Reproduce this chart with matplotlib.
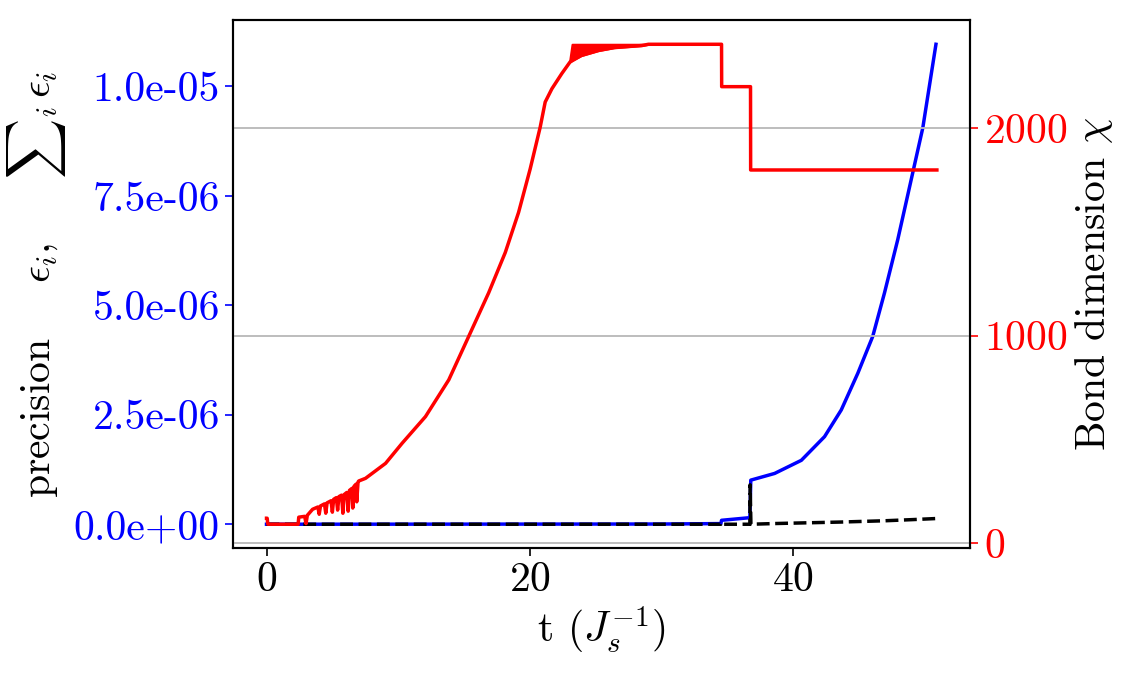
import matplotlib
matplotlib.use('Agg')
import matplotlib.pyplot as plt
from matplotlib.ticker import FormatStrFormatter

plt.rcParams.update({
    'font.family': 'serif',
    'font.serif': ['cmr10', 'DejaVu Serif'],
    'mathtext.fontset': 'cm',
    'axes.formatter.use_mathtext': True,
    'font.size': 30,
    'axes.linewidth': 1.5,
})

# bond dimension chi vs t (red, right axis)
t_chi = [0.0, 0.05, 0.1, 2.4, 2.45, 2.9, 3.0, 3.1, 3.5, 3.9, 4.0, 4.1, 4.4, 4.5, 4.6,
         4.9, 5.0, 5.1, 5.3, 5.4, 5.5, 5.7, 5.8, 5.9, 6.1, 6.2, 6.3, 6.5, 6.55, 6.65,
         6.8, 6.85, 6.95, 7.0, 7.52, 9.04, 10.3, 12.07, 13.84, 15.36, 16.87, 18.13,
         19.14, 20.02, 20.78, 21.16, 21.67, 22.42, 23.05, 23.9, 25.2, 26.4, 28.5, 29.0,
         34.55, 34.56, 36.75, 36.76, 50.9]
chi = [121, 121, 92, 92, 126, 130, 95, 135, 164, 175, 140, 180, 190, 145, 195,
       205, 150, 212, 220, 160, 225, 232, 145, 235, 245, 155, 255, 265, 170, 275,
       285, 200, 295, 300, 313, 385, 482, 610, 787, 997, 1206, 1400,
       1593, 1802, 2003, 2124, 2188, 2261, 2317, 2348, 2372, 2386, 2396, 2402,
       2402, 2198, 2198, 1797, 1797]

# oscillating band of chi between t~23 and t~29
t_band = [23.0, 23.2, 23.9, 25.2, 26.4, 28.5, 29.0]
chi_band_low = [2315, 2325, 2348, 2372, 2386, 2396, 2402]
chi_band_high = [2315, 2402, 2402, 2402, 2402, 2402, 2402]

# accumulated precision sum_i eps_i (blue)
t_sum = [0.0, 30.0, 34.5, 34.55, 36.7, 36.77, 38.58, 40.61, 42.37, 43.64, 44.9,
         46.03, 46.92, 47.93, 49.07, 49.83, 50.83]
eps_sum = [0.0, 0.5e-8, 1.5e-8, 0.9e-7, 1.5e-7, 1.007e-6, 1.16e-6, 1.46e-6, 2.0e-6,
           2.61e-6, 3.45e-6, 4.29e-6, 5.28e-6, 6.50e-6, 8.03e-6, 9.05e-6, 1.096e-5]

# precision per step eps_i (black dashed)
t_eps = [0.0, 34.5, 34.55, 34.6, 36.7, 36.72, 36.78, 38.6, 43.6, 47.0, 49.0, 50.83]
eps_i = [0.0, 0.0, 0.4e-7, 0.0, 0.0, 0.9e-6, 0.0, 1.6e-8, 5e-8, 8e-8, 1.05e-7, 1.3e-7]

fig = plt.figure(figsize=(11.31, 6.76), dpi=100)
ax = fig.add_axes([0.206, 0.189, 0.652, 0.781])
ax2 = ax.twinx()

ax.plot(t_sum, eps_sum, color='blue', lw=2.5)
ax.plot(t_eps, eps_i, color='black', lw=2.5, ls='--')
ax.set_xlabel(r't $(J_s^{-1})$')
ax.set_ylabel(r'precision    $\epsilon_i,$    ${\sum}_i\,\epsilon_i$')
ax.yaxis.set_major_formatter(FormatStrFormatter('%.1e'))
ax.set_yticks([0, 2.5e-6, 5e-6, 7.5e-6, 1e-5])
ax.set_xticks([0, 20, 40])
ax.tick_params(axis='y', colors='blue', length=6, width=1.2)
ax.tick_params(axis='x', length=6, width=1.2)

ax2.plot(t_chi, chi, color='red', lw=2.5)
ax2.fill_between(t_band, chi_band_low, chi_band_high, color='red', lw=1.5)
ax2.set_ylabel(r'Bond dimension $\chi$')
ax2.set_yticks([0, 1000, 2000])
ax2.tick_params(axis='y', colors='red', length=6, width=1.2)
ax2.grid(axis='y', color='#b8b8b8', lw=1.3)

fig.savefig('out.png', dpi=100)
